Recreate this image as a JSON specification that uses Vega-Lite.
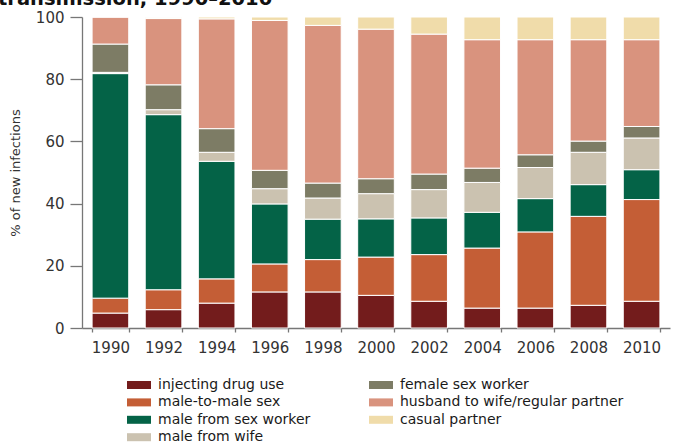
{
  "$schema": "https://vega.github.io/schema/vega-lite/v6.json",
  "autosize": {"type": "none"},
  "width": 588,
  "height": 311,
  "padding": {"left": 82, "top": 17, "right": 23, "bottom": 115},
  "background": "white",
  "title": {
    "text": "transmission, 1990–2010",
    "anchor": "start",
    "frame": "group",
    "font": "DejaVu Sans",
    "fontSize": 19.5,
    "fontWeight": "bold",
    "color": "#111111",
    "baseline": "alphabetic",
    "dx": -84,
    "offset": -14
  },
  "data": {
    "values": [
      {"year": "1990", "mode": "injecting drug use", "k": 1, "pct": 4.8},
      {"year": "1990", "mode": "male-to-male sex", "k": 2, "pct": 4.8},
      {"year": "1990", "mode": "male from sex worker", "k": 3, "pct": 72.2},
      {"year": "1990", "mode": "male from wife", "k": 4, "pct": 0.4},
      {"year": "1990", "mode": "female sex worker", "k": 5, "pct": 9.1},
      {"year": "1990", "mode": "husband to wife/regular partner", "k": 6, "pct": 8.7},
      {"year": "1990", "mode": "casual partner", "k": 7, "pct": 0},

      {"year": "1992", "mode": "injecting drug use", "k": 1, "pct": 5.9},
      {"year": "1992", "mode": "male-to-male sex", "k": 2, "pct": 6.4},
      {"year": "1992", "mode": "male from sex worker", "k": 3, "pct": 56.3},
      {"year": "1992", "mode": "male from wife", "k": 4, "pct": 1.6},
      {"year": "1992", "mode": "female sex worker", "k": 5, "pct": 8.0},
      {"year": "1992", "mode": "husband to wife/regular partner", "k": 6, "pct": 21.3},
      {"year": "1992", "mode": "casual partner", "k": 7, "pct": 0.3},

      {"year": "1994", "mode": "injecting drug use", "k": 1, "pct": 8.0},
      {"year": "1994", "mode": "male-to-male sex", "k": 2, "pct": 7.8},
      {"year": "1994", "mode": "male from sex worker", "k": 3, "pct": 37.8},
      {"year": "1994", "mode": "male from wife", "k": 4, "pct": 2.9},
      {"year": "1994", "mode": "female sex worker", "k": 5, "pct": 7.6},
      {"year": "1994", "mode": "husband to wife/regular partner", "k": 6, "pct": 35.3},
      {"year": "1994", "mode": "casual partner", "k": 7, "pct": 0.6},

      {"year": "1996", "mode": "injecting drug use", "k": 1, "pct": 11.6},
      {"year": "1996", "mode": "male-to-male sex", "k": 2, "pct": 9.0},
      {"year": "1996", "mode": "male from sex worker", "k": 3, "pct": 19.3},
      {"year": "1996", "mode": "male from wife", "k": 4, "pct": 4.9},
      {"year": "1996", "mode": "female sex worker", "k": 5, "pct": 5.9},
      {"year": "1996", "mode": "husband to wife/regular partner", "k": 6, "pct": 48.2},
      {"year": "1996", "mode": "casual partner", "k": 7, "pct": 1.1},

      {"year": "1998", "mode": "injecting drug use", "k": 1, "pct": 11.6},
      {"year": "1998", "mode": "male-to-male sex", "k": 2, "pct": 10.4},
      {"year": "1998", "mode": "male from sex worker", "k": 3, "pct": 13.0},
      {"year": "1998", "mode": "male from wife", "k": 4, "pct": 6.8},
      {"year": "1998", "mode": "female sex worker", "k": 5, "pct": 4.8},
      {"year": "1998", "mode": "husband to wife/regular partner", "k": 6, "pct": 50.7},
      {"year": "1998", "mode": "casual partner", "k": 7, "pct": 2.7},

      {"year": "2000", "mode": "injecting drug use", "k": 1, "pct": 10.5},
      {"year": "2000", "mode": "male-to-male sex", "k": 2, "pct": 12.3},
      {"year": "2000", "mode": "male from sex worker", "k": 3, "pct": 12.3},
      {"year": "2000", "mode": "male from wife", "k": 4, "pct": 8.1},
      {"year": "2000", "mode": "female sex worker", "k": 5, "pct": 4.8},
      {"year": "2000", "mode": "husband to wife/regular partner", "k": 6, "pct": 48.1},
      {"year": "2000", "mode": "casual partner", "k": 7, "pct": 3.9},

      {"year": "2002", "mode": "injecting drug use", "k": 1, "pct": 8.6},
      {"year": "2002", "mode": "male-to-male sex", "k": 2, "pct": 15.0},
      {"year": "2002", "mode": "male from sex worker", "k": 3, "pct": 11.8},
      {"year": "2002", "mode": "male from wife", "k": 4, "pct": 9.1},
      {"year": "2002", "mode": "female sex worker", "k": 5, "pct": 5.0},
      {"year": "2002", "mode": "husband to wife/regular partner", "k": 6, "pct": 45.0},
      {"year": "2002", "mode": "casual partner", "k": 7, "pct": 5.5},

      {"year": "2004", "mode": "injecting drug use", "k": 1, "pct": 6.4},
      {"year": "2004", "mode": "male-to-male sex", "k": 2, "pct": 19.3},
      {"year": "2004", "mode": "male from sex worker", "k": 3, "pct": 11.5},
      {"year": "2004", "mode": "male from wife", "k": 4, "pct": 9.6},
      {"year": "2004", "mode": "female sex worker", "k": 5, "pct": 4.6},
      {"year": "2004", "mode": "husband to wife/regular partner", "k": 6, "pct": 41.3},
      {"year": "2004", "mode": "casual partner", "k": 7, "pct": 7.3},

      {"year": "2006", "mode": "injecting drug use", "k": 1, "pct": 6.4},
      {"year": "2006", "mode": "male-to-male sex", "k": 2, "pct": 24.5},
      {"year": "2006", "mode": "male from sex worker", "k": 3, "pct": 10.7},
      {"year": "2006", "mode": "male from wife", "k": 4, "pct": 10.0},
      {"year": "2006", "mode": "female sex worker", "k": 5, "pct": 4.1},
      {"year": "2006", "mode": "husband to wife/regular partner", "k": 6, "pct": 37.0},
      {"year": "2006", "mode": "casual partner", "k": 7, "pct": 7.3},

      {"year": "2008", "mode": "injecting drug use", "k": 1, "pct": 7.3},
      {"year": "2008", "mode": "male-to-male sex", "k": 2, "pct": 28.6},
      {"year": "2008", "mode": "male from sex worker", "k": 3, "pct": 10.2},
      {"year": "2008", "mode": "male from wife", "k": 4, "pct": 10.4},
      {"year": "2008", "mode": "female sex worker", "k": 5, "pct": 3.6},
      {"year": "2008", "mode": "husband to wife/regular partner", "k": 6, "pct": 32.6},
      {"year": "2008", "mode": "casual partner", "k": 7, "pct": 7.3},

      {"year": "2010", "mode": "injecting drug use", "k": 1, "pct": 8.6},
      {"year": "2010", "mode": "male-to-male sex", "k": 2, "pct": 32.7},
      {"year": "2010", "mode": "male from sex worker", "k": 3, "pct": 9.6},
      {"year": "2010", "mode": "male from wife", "k": 4, "pct": 10.2},
      {"year": "2010", "mode": "female sex worker", "k": 5, "pct": 3.7},
      {"year": "2010", "mode": "husband to wife/regular partner", "k": 6, "pct": 27.9},
      {"year": "2010", "mode": "casual partner", "k": 7, "pct": 7.3}
    ]
  },
  "mark": {"type": "bar", "stroke": "white", "strokeWidth": 1},
  "encoding": {
    "x": {
      "field": "year",
      "type": "ordinal",
      "scale": {"paddingInner": 0.31, "paddingOuter": 0.19},
      "axis": {
        "title": null,
        "labelAngle": 0,
        "labelFont": "DejaVu Sans",
        "labelFontSize": 15,
        "labelColor": "#333333",
        "labelPadding": 8,
        "tickBand": "extent",
        "tickSize": 4,
        "tickColor": "#777777",
        "domainColor": "#777777",
        "domainWidth": 1.3,
        "tickWidth": 1.3
      }
    },
    "y": {
      "field": "pct",
      "type": "quantitative",
      "stack": "zero",
      "scale": {"domain": [0, 100]},
      "axis": {
        "title": "% of new infections",
        "titleFont": "DejaVu Sans",
        "titleFontSize": 13,
        "titleFontWeight": "normal",
        "titleColor": "#333333",
        "titlePadding": 13,
        "values": [0, 20, 40, 60, 80, 100],
        "grid": false,
        "labelFont": "DejaVu Sans",
        "labelFontSize": 15,
        "labelColor": "#333333",
        "labelPadding": 6,
        "tickSize": 12,
        "tickColor": "#777777",
        "domainColor": "#777777",
        "domainWidth": 1.3,
        "tickWidth": 1.3
      }
    },
    "color": {
      "field": "mode",
      "type": "nominal",
      "scale": {
        "domain": ["injecting drug use", "male-to-male sex", "male from sex worker", "male from wife", "female sex worker", "husband to wife/regular partner", "casual partner"],
        "range": ["#731c1c", "#c45e36", "#046347", "#cbc2b0", "#7d7c65", "#d9937e", "#f0dcaa"]
      },
      "legend": {
        "title": null,
        "orient": "none",
        "legendX": 42,
        "legendY": 361,
        "columns": 2,
        "columnPadding": 55,
        "rowPadding": 3.4,
        "padding": 0,
        "symbolType": "M-1,-1H5V1H-1Z",
        "symbolSize": 64,
        "symbolStrokeWidth": 0,
        "labelOffset": 20,
        "labelFont": "DejaVu Sans",
        "labelFontSize": 14,
        "labelColor": "#1a1a1a",
        "labelLimit": 400
      }
    },
    "order": {"field": "k", "type": "quantitative"}
  },
  "config": {"view": {"stroke": null}}
}
